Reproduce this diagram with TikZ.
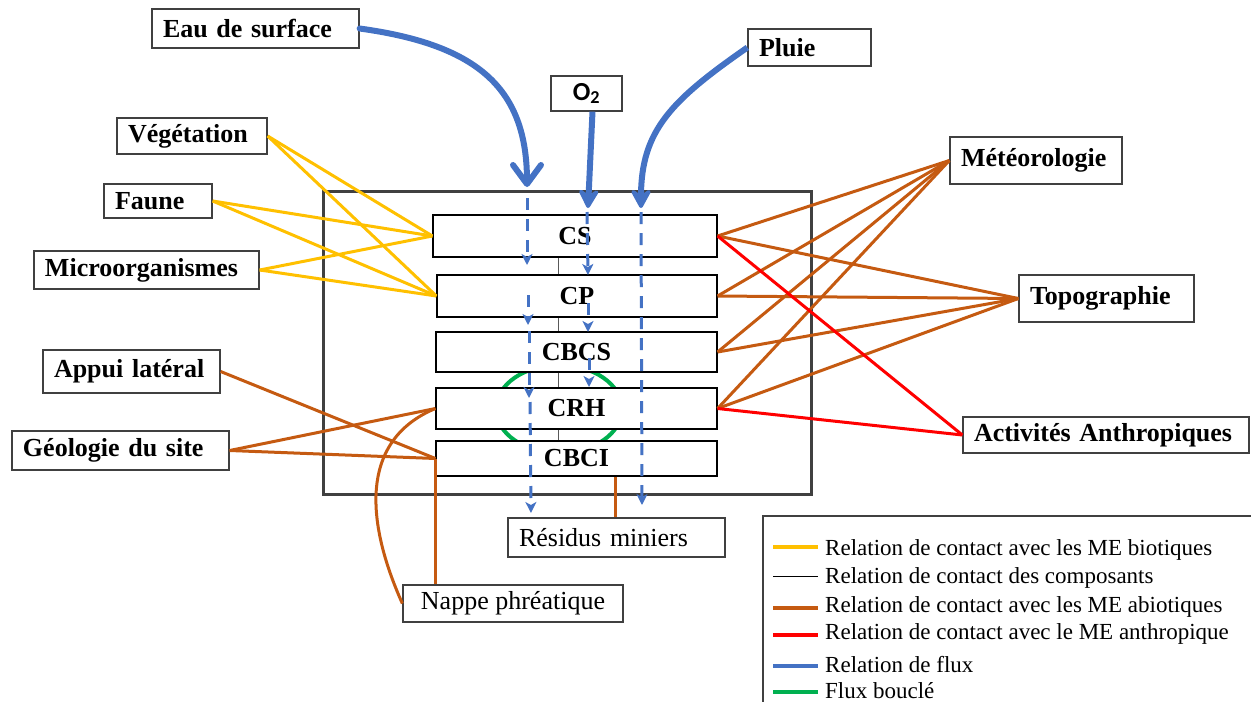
\documentclass[tikz,border=0pt]{standalone}
\usepackage{fontspec}
\setmainfont{Liberation Serif}
\newfontfamily\carlito{Carlito}
\usetikzlibrary{arrows.meta,calc}
\definecolor{cyel}{HTML}{FFC000}
\definecolor{cora}{HTML}{C55A11}
\definecolor{cred}{HTML}{FF0000}
\definecolor{cblu}{HTML}{4472C4}
\definecolor{cgrn}{HTML}{00B050}
\definecolor{cbox}{HTML}{404040}
\begin{document}
\begin{tikzpicture}[x=1pt,y=-1pt,
  lbl/.style={draw=cbox, line width=1.3pt, fill=white, inner xsep=11pt, inner ysep=0pt, align=left, font=\bfseries\fontsize{26}{30}\selectfont},
  comp/.style={draw=black, line width=1.2pt, fill=white, inner sep=0pt, font=\bfseries\fontsize{26}{30}\selectfont},
  plainbox/.style={draw=cbox, line width=1.3pt, fill=white, inner xsep=11pt, inner ysep=0pt, align=left, font=\fontsize{26}{30}\selectfont},
  bio/.style={cyel, line width=3pt},
  abio/.style={cora, line width=3pt},
  anthro/.style={cred, line width=3pt},
  complink/.style={black!65, line width=1pt},
  flux/.style={cblu, line width=3pt, dash pattern=on 12pt off 9pt, -{Stealth[length=11pt,width=11pt,inset=3pt]}},
  bigbarb/.style={cblu, line width=6pt, line cap=round, -{Straight Barb[length=19pt,width=28pt,round]}},
  bigflux/.style={cblu, line width=6pt, -{Stealth[length=24pt,width=26pt,inset=9pt,round]}},
  flowloop/.style={cgrn, line width=4pt},
  legtxt/.style={anchor=west, inner sep=0pt, font=\fontsize{23}{26}\selectfont},
]
\useasboundingbox (0,0) rectangle (1251,702);

% container
\draw[cbox, line width=3pt] (323,191) rectangle (811,494);

% looped flux
\draw[flowloop] (559,409) ellipse [x radius=63, y radius=44];

% component boxes
\node[comp, minimum width=284pt, minimum height=42pt] (cs) at (575,236) {CS};
\node[comp, minimum width=280pt, minimum height=42pt] (cp) at (577,296) {CP};
\node[comp, minimum width=281pt, minimum height=40pt] (cbcs) at (576.5,352) {CBCS};
\node[comp, minimum width=281pt, minimum height=41pt] (crh) at (576.5,408.5) {CRH};
\node[comp, minimum width=281pt, minimum height=35pt] (cbci) at (576.5,458.5) {CBCI};

% external boxes
\node[lbl, text width=185pt, minimum height=39pt] (eau) at (255.5,28.5) {Eau de surface};
\node[lbl, align=center, inner xsep=0pt, minimum width=71pt, minimum height=35pt, font=\carlito\bfseries\fontsize{26}{30}\selectfont] (o2) at (586.5,93.5) {O\textsubscript{2}};
\node[lbl, text width=101pt, minimum height=37pt] (pluie) at (809.5,47.5) {Pluie};
\node[lbl, text width=128pt, minimum height=36pt] (veg) at (192,136) {Végétation};
\node[lbl, text width=86pt, minimum height=34pt] (faune) at (158,201) {Faune};
\node[lbl, text width=203pt, minimum height=38pt] (micro) at (146.5,270) {Microorganismes};
\node[lbl, text width=155pt, minimum height=43pt] (appui) at (131.5,371.5) {Appui latéral};
\node[lbl, text width=195pt, minimum height=39pt] (geo) at (120.5,450.5) {Géologie du site};
\node[lbl, text width=150pt, minimum height=47pt] (meteo) at (1036,160.5) {Météorologie};
\node[lbl, text width=153pt, minimum height=47pt] (topo) at (1106.5,298.5) {Topographie};
\node[lbl, text width=264pt, minimum height=36pt] (activ) at (1106,435) {Activités Anthropiques};
\node[plainbox, text width=195pt, minimum height=39pt] (res) at (616.5,537.5) {Résidus miniers};
\node[plainbox, align=center, inner xsep=0pt, minimum width=220pt, minimum height=37pt] (nappe) at (513,603.5) {Nappe phréatique};

% component contact links
\coordinate (kx) at (558,0);
\draw[complink] (cs.south -| kx) -- (cp.north -| kx);
\draw[complink] (cp.south -| kx) -- (cbcs.north -| kx);
\draw[complink] (cbcs.south -| kx) -- (crh.north -| kx);
\draw[complink] (crh.south -| kx) -- (cbci.north -| kx);

% biotic links
\foreach \s in {veg,faune,micro}{
  \draw[bio] (\s.east) -- (cs.west);
  \draw[bio] (\s.east) -- (cp.west);
}

% abiotic links (left)
\draw[abio] (appui.east) -- (cbci.west);
\draw[abio] (geo.east) -- (crh.west);
\draw[abio] (geo.east) -- (cbci.west);
\draw[abio] (cbci.west) -- (cbci.west |- nappe.north);
\draw[abio] (crh.west) .. controls (360,440) and (365,520) .. (nappe.west);
\coordinate (rx) at (615,0);
\draw[abio] (cbci.south -| rx) -- (res.north -| rx);

% abiotic links (right)
\foreach \c in {cs,cp,cbcs,crh}{
  \draw[abio] (\c.east) -- (meteo.west);
  \draw[abio] (\c.east) -- (topo.west);
}
% anthropic links
\draw[anthro] (cs.east) -- (activ.west);
\draw[anthro] (crh.east) -- (activ.west);

% flux arrows (dashed)
\coordinate (a1s) at (527,198); \coordinate (a1e) at (527,265);
\coordinate (a2s) at (528,295); \coordinate (a2e) at (528,325);
\coordinate (a3s) at (529,331); \coordinate (a3e) at (529,398);
\coordinate (a4s) at (530,402); \coordinate (a4e) at (531,513);
\coordinate (m1s) at (587,212); \coordinate (m1e) at (588,275);
\coordinate (m2s) at (588,303); \coordinate (m2e) at (588,332);
\coordinate (m3s) at (589,358); \coordinate (m3e) at (589,387);
\coordinate (p1s) at (641,212); \coordinate (p1e) at (642,505);
\draw[flux] (a1s) -- (a1e);
\draw[flux] (a2s) -- (a2e);
\draw[flux] (a3s) -- (a3e);
\draw[flux] (a4s) -- (a4e);
\draw[flux] (m1s) -- (m1e);
\draw[flux] (m2s) -- (m2e);
\draw[flux] (m3s) -- (m3e);
\draw[flux] (p1s) -- (p1e);

% big flux arrows
\coordinate (eauend) at (527,187);
\coordinate (o2end) at (588,208);
\coordinate (pluieend) at (641,208);
\draw[bigbarb] (eau.east) .. controls (480,45) and (527,90) .. (eauend);
\draw[bigflux] ($(o2.south)+(6,0)$) -- (o2end);
\draw[bigflux] (pluie.west) .. controls (672,100) and (641,130) .. (pluieend);

% legend
\draw[cbox, line width=1.3pt] (1251,516) -- (763,516) -- (763,702);
\coordinate (l1a) at (773,547); \coordinate (l1b) at (818,547);
\coordinate (l2a) at (773,576); \coordinate (l2b) at (818,576);
\coordinate (l3a) at (773,608); \coordinate (l3b) at (818,608);
\coordinate (l4a) at (773,635); \coordinate (l4b) at (818,635);
\coordinate (l5a) at (773,666); \coordinate (l5b) at (818,666);
\coordinate (l6a) at (773,692); \coordinate (l6b) at (818,692);
\draw[cyel, line width=4pt] (l1a) -- (l1b);
\draw[black, line width=1pt] (l2a) -- (l2b);
\draw[cora, line width=4pt] (l3a) -- (l3b);
\draw[cred, line width=4pt] (l4a) -- (l4b);
\draw[cblu, line width=4pt] (l5a) -- (l5b);
\draw[cgrn, line width=4pt] (l6a) -- (l6b);
\node[legtxt] (t1) at (825,550) {Relation de contact avec les ME biotiques};
\node[legtxt] (t2) at (825,578) {Relation de contact des composants};
\node[legtxt] (t3) at (825,607) {Relation de contact avec les ME abiotiques};
\node[legtxt] (t4) at (825,634) {Relation de contact avec le ME anthropique};
\node[legtxt] (t5) at (825,665) {Relation de flux};
\node[legtxt] (t6) at (825,691) {Flux bouclé};
\end{tikzpicture}
\end{document}
